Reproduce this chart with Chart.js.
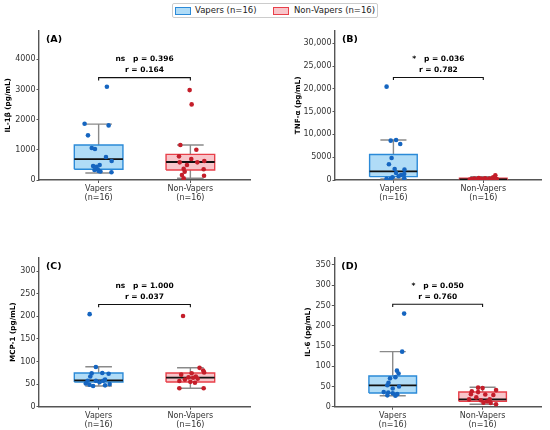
<!DOCTYPE html>
<html>
<head>
<meta charset="utf-8">
<script src="https://cdn.jsdelivr.net/npm/chart.js@4.4.1/dist/chart.umd.min.js"></script>
<style>
  html,body{margin:0;padding:0;background:#fff;}
  #wrap{position:relative;width:550px;height:430px;overflow:hidden;font-family:"DejaVu Sans",sans-serif;}
  canvas{position:absolute;}
  #legend{position:absolute;left:172px;top:3px;width:206px;height:15px;border:1px solid #cccccc;border-radius:2px;box-sizing:border-box;background:#fff;z-index:5;}
  .patch{position:absolute;top:3px;width:14px;height:6px;border-width:1.4px;border-style:solid;}
  .ltxt{position:absolute;top:0px;font-size:8.5px;line-height:13px;color:#222;white-space:nowrap;}
</style>
</head>
<body>
<div id="wrap">
  <div id="legend">
    <div class="patch" style="left:2px;background:#b0dcf7;border-color:#2b8ad8;"></div>
    <div class="ltxt" style="left:22px;">Vapers (n=16)</div>
    <div class="patch" style="left:100px;background:#f8c5ca;border-color:#e8404a;"></div>
    <div class="ltxt" style="left:121px;">Non-Vapers (n=16)</div>
  </div>
  <canvas id="cA" width="275" height="215" style="left:0;top:0;"></canvas>
  <canvas id="cB" width="275" height="215" style="left:275px;top:0;"></canvas>
  <canvas id="cC" width="275" height="215" style="left:0;top:215px;"></canvas>
  <canvas id="cD" width="275" height="215" style="left:275px;top:215px;"></canvas>
</div>
<script>
// ---------- data ----------
const categories = ['Vapers', 'Non-Vapers'];
const groupN = ['(n=16)', '(n=16)'];
const panelLetters = ['(A)', '(B)', '(C)', '(D)'];
const yTitles = ['IL-1β (pg/mL)', 'TNF-α (pg/mL)', 'MCP-1 (pg/mL)', 'IL-6 (pg/mL)'];

// box stats: [whisker low, Q1, median, Q3, whisker high]
const il1bVapersBox = [232, 354, 695, 1159, 1854];
const il1bNonVapersBox = [60, 331, 596, 851, 1159];
const tnfVapersBox = [250, 735, 1900, 5600, 8780];
const tnfNonVapersBox = [10, 40, 150, 380, 700];
const mcpVapersBox = [45.8, 54.6, 58.3, 74.5, 88.4];
const mcpNonVapersBox = [41, 54.6, 64.2, 74.5, 86.2];
const il6VapersBox = [27, 33.8, 52.8, 75.8, 136];
const il6NonVapersBox = [6, 13.3, 18.2, 36.3, 47.9];

// individual subject values
const il1bVapers = [3090, 1865, 1810, 1480, 1060, 1026, 762, 630, 497, 463, 440, 354, 298, 255, 330, 280];
const il1bNonVapers = [2980, 2506, 1159, 1003, 784, 695, 585, 585, 629, 497, 375, 275, 354, 166, 142, 56];
const tnfVapers = [20480, 8630, 8780, 7900, 4830, 3440, 2415, 2270, 1540, 1320, 1100, 810, 600, 370, 250, 250];
const tnfNonVapers = [1050, 600, 450, 380, 330, 300, 260, 220, 190, 160, 140, 120, 100, 80, 50, 20];
const mcpVapers = [205, 88, 74.5, 73, 73.8, 67, 60, 57.6, 57.6, 57.6, 54, 51.6, 48.7, 45.8, 47.3, 50];
const mcpNonVapers = [201, 86, 80, 76, 74, 71, 67, 65, 64, 62, 60, 57, 55, 53, 41, 41];
const il6Vapers = [230, 136, 89, 82, 73, 70, 59, 53, 50, 45, 36, 35, 33, 31, 28, 27];
const il6NonVapers = [47, 46, 41, 38, 36, 31, 30, 29, 23, 18, 18, 16, 13, 10, 9, 6];

// horizontal jitter (category units)
const jitA0 = [0.09, -0.153, 0.109, -0.116, -0.075, -0.04, 0.08, 0.142, 0.011, -0.06, -0.025, -0.01, 0.0, 0.14, -0.045, 0.02];
const jitA1 = [-0.008, 0.014, -0.109, 0.065, -0.124, 0.01, -0.116, 0.076, 0.152, -0.037, -0.073, -0.062, 0.145, -0.092, 0.149, -0.073];
const jitB0 = [-0.076, -0.03, 0.03, 0.076, -0.02, -0.05, 0.014, 0.123, 0.03, 0.12, 0.085, 0.058, -0.01, 0.12, -0.076, -0.03];
const jitB1 = [0.134, 0.11, -0.05, 0.02, -0.1, 0.07, -0.02, 0.15, -0.13, 0.04, -0.07, 0.1, -0.15, 0.0, 0.13, -0.09];
const jitC0 = [-0.098, -0.03, 0.04, 0.109, -0.076, -0.091, 0.07, -0.12, -0.03, 0.05, 0.01, -0.14, -0.1, -0.06, 0.07, 0.12];
const jitC1 = [-0.08, 0.1, 0.14, 0.15, 0.014, -0.1, 0.06, -0.02, 0.03, 0.08, -0.06, -0.12, 0.0, 0.05, -0.12, 0.145];
const jitD0 = [0.127, 0.105, 0.047, 0.065, 0.03, -0.03, -0.047, -0.06, 0.07, 0.0, -0.1, -0.05, 0.0, 0.05, -0.06, 0.03];
const jitD1 = [-0.05, 0.0, 0.15, -0.12, -0.05, -0.13, 0.03, 0.12, -0.07, -0.15, 0.08, -0.02, 0.05, 0.01, 0.09, 0.15];

// axis ticks / limits
const yTicksA = [0, 1000, 2000, 3000, 4000];
const yTicksB = [0, 5000, 10000, 15000, 20000, 25000, 30000];
const yTicksC = [0, 50, 100, 150, 200, 250, 300];
const yTicksD = [0, 50, 100, 150, 200, 250, 300, 350];
const yMaxA = 4950, yMaxB = 32750, yMaxC = 330, yMaxD = 368;

// significance brackets [leg bottom, bar] and texts
const bracketA = [3300, 3395], bracketB = [21950, 22490], bracketC = [220.4, 226.4], bracketD = [246.3, 253];
const statA = ['ns   p = 0.396', 'r = 0.164'];
const statB = ['*   p = 0.036', 'r = 0.782'];
const statC = ['ns   p = 1.000', 'r = 0.037'];
const statD = ['*   p = 0.050', 'r = 0.760'];

// ---------- styling ----------
const FONT = '"DejaVu Sans", sans-serif';
const HW = 0.265, CW = 0.145;
const COL = [
  {edge: '#2b8ad8', fill: '#b0dcf7', pt: '#1565c0'},
  {edge: '#e8404a', fill: '#f8c5ca', pt: '#c41e2a'}
];
const AXIS = '#555555';

function groupDatasets(g, box, vals, jit) {
  const [wlo, q1, med, q3, whi] = box;
  const c = COL[g];
  const line = (data, color, w) => ({data, showLine: true, borderColor: color, borderWidth: w, pointRadius: 0, fill: false});
  return {
    points: {data: vals.map((v, i) => ({x: g + jit[i], y: v})), showLine: false, pointRadius: 2.3,
             pointBackgroundColor: c.pt, pointBorderWidth: 0, pointHoverRadius: 2.3},
    median: line([{x: g - HW, y: med}, {x: g + HW, y: med}], '#111111', 1.8),
    outline: line([{x: g - HW, y: q1}, {x: g + HW, y: q1}, {x: g + HW, y: q3}, {x: g - HW, y: q3}, {x: g - HW, y: q1}], c.edge, 1.4),
    fillTop: {data: [{x: g - HW, y: q3}, {x: g + HW, y: q3}], showLine: true, borderWidth: 0, borderColor: 'rgba(0,0,0,0)',
              pointRadius: 0, fill: {value: q1}, backgroundColor: c.fill},
    whiskers: [
      line([{x: g, y: q3}, {x: g, y: whi}], '#8a8a8a', 1.4),
      line([{x: g, y: wlo}, {x: g, y: q1}], '#8a8a8a', 1.4),
      line([{x: g - CW, y: whi}, {x: g + CW, y: whi}], '#8a8a8a', 1.4),
      line([{x: g - CW, y: wlo}, {x: g + CW, y: wlo}], '#8a8a8a', 1.4)
    ]
  };
}

function makePanel(id, idx, boxes, values, jitters, yTicks, yMax, bracket, stat, lay) {
  const g0 = groupDatasets(0, boxes[0], values[0], jitters[0]);
  const g1 = groupDatasets(1, boxes[1], values[1], jitters[1]);
  // first dataset drawn on top
  const datasets = [
    g0.points, g1.points,
    {data: [{x: 0, y: bracket[0]}, {x: 0, y: bracket[1]}, {x: 1, y: bracket[1]}, {x: 1, y: bracket[0]}],
     showLine: true, borderColor: '#111', borderWidth: 1.1, pointRadius: 0, fill: false},
    g0.median, g1.median, g0.outline, g1.outline, g0.fillTop, g1.fillTop,
    ...g0.whiskers, ...g1.whiskers
  ];
  const textPlugin = {
    id: 'txt' + idx,
    afterDatasetsDraw(chart) {
      const ctx = chart.ctx, xs = chart.scales.x, ys = chart.scales.y, a = chart.chartArea;
      ctx.save();
      ctx.fillStyle = '#000';
      ctx.font = 'bold 9.5px ' + FONT;
      ctx.textAlign = 'left'; ctx.textBaseline = 'middle';
      ctx.fillText(panelLetters[idx], a.left + 7, a.top + 8.5);
      const cx = xs.getPixelForValue(0.5), by = ys.getPixelForValue(bracket[1]);
      ctx.font = 'bold 7.5px ' + FONT;
      ctx.textAlign = 'center';
      ctx.fillText(stat[0], cx, by - 18.5);
      ctx.fillText(stat[1], cx, by - 7.5);
      ctx.restore();
    }
  };
  return new Chart(document.getElementById(id), {
    type: 'scatter',
    data: {datasets},
    plugins: [textPlugin],
    options: {
      responsive: false, animation: false, devicePixelRatio: 1,
      events: [],
      layout: {padding: {left: lay.padL, top: lay.padT, right: lay.padR, bottom: 0}},
      plugins: {legend: {display: false}, tooltip: {enabled: false}},
      scales: {
        x: {
          type: 'linear', min: -0.65, max: 1.65,
          afterBuildTicks: s => { s.ticks = [{value: 0}, {value: 1}]; },
          afterFit: s => { s.height = lay.xH; },
          ticks: {callback: (v) => [categories[v], groupN[v]], font: {family: FONT, size: 8}, color: '#333', padding: 1, maxRotation: 0, autoSkip: false},
          grid: {drawOnChartArea: false, drawTicks: true, tickLength: 3, color: AXIS, tickWidth: 1},
          border: {display: true, color: AXIS, width: 1.4}
        },
        y: {
          type: 'linear', min: 0, max: yMax,
          afterBuildTicks: s => { s.ticks = yTicks.map(v => ({value: v})); },
          afterFit: s => { s.width = lay.yW; },
          ticks: {callback: v => (v >= 10000 ? v.toLocaleString('en-US') : String(v)), font: {family: FONT, size: 8}, color: '#333', padding: 1},
          grid: {drawOnChartArea: false, drawTicks: true, tickLength: 2.5, color: AXIS, tickWidth: 1},
          border: {display: true, color: AXIS, width: 1.4},
          title: {display: true, text: yTitles[idx], font: {family: FONT, size: 7.2, weight: 'bold'}, color: '#000', padding: {top: 4, bottom: 0}}
        }
      }
    }
  });
}

makePanel('cA', 0, [il1bVapersBox, il1bNonVapersBox], [il1bVapers, il1bNonVapers], [jitA0, jitA1], yTicksA, yMaxA, bracketA, statA,
  {padL: 0, padT: 30.7, padR: 25, yW: 39, xH: 35});
makePanel('cB', 1, [tnfVapersBox, tnfNonVapersBox], [tnfVapers, tnfNonVapers], [jitB0, jitB1], yTicksB, yMaxB, bracketB, statB,
  {padL: 14.5, padT: 30.7, padR: 8.3, yW: 45.5, xH: 35});
makePanel('cC', 2, [mcpVapersBox, mcpNonVapersBox], [mcpVapers, mcpNonVapers], [jitC0, jitC1], yTicksC, yMaxC, bracketC, statC,
  {padL: 4.5, padT: 42.7, padR: 25, yW: 34.5, xH: 23.3});
makePanel('cD', 3, [il6VapersBox, il6NonVapersBox], [il6Vapers, il6NonVapers], [jitD0, jitD1], yTicksD, yMaxD, bracketD, statD,
  {padL: 25, padT: 42.7, padR: 9, yW: 34.3, xH: 23.3});
</script>
</body>
</html>
